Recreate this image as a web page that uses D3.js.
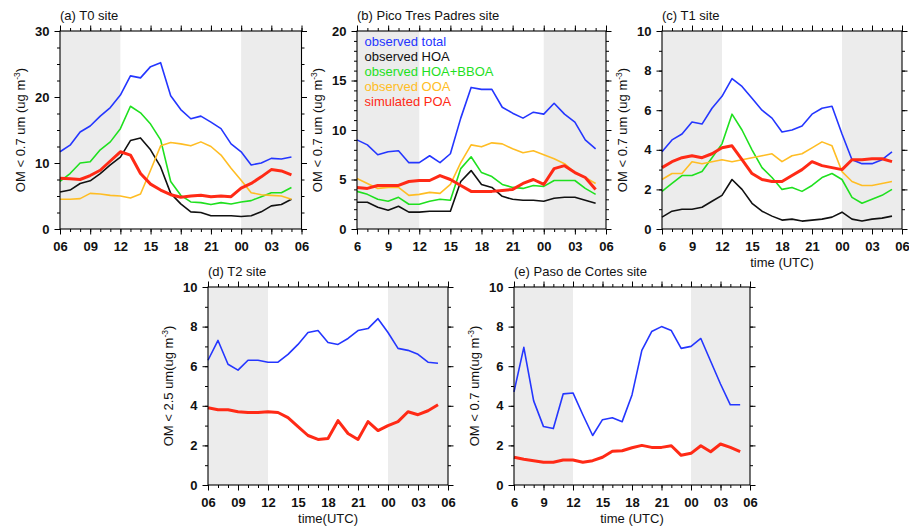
<!DOCTYPE html>
<html>
<head>
<meta charset="utf-8">
<script src="https://cdn.jsdelivr.net/npm/d3@7"></script>
<style>
body { margin: 0; background: #fff; }
svg { display: block; font-family: "Liberation Sans", Arial, Helvetica, sans-serif; }
</style>
</head>
<body>
<script>
// hourly values, index 0 = 06 UTC ... index 23 = 05 UTC (next day)
var ticksTwo = ["06", "09", "12", "15", "18", "21", "00", "03", "06"];
var ticksOne = ["6", "9", "12", "15", "18", "21", "00", "03", "06"];
var seriesNames = ["observed total", "observed HOA", "observed HOA+BBOA", "observed OOA", "simulated POA"];

// (a) T0
var t0Total = [11.7, 12.7, 14.7, 15.6, 17.1, 18.4, 20.3, 23.2, 22.9, 24.6, 25.2, 20.2, 18.1, 16.7, 17.1, 16.2, 15.2, 12.9, 11.7, 9.7, 10.0, 10.7, 10.6, 10.9];
var t0Hoa = [5.6, 5.9, 6.9, 7.3, 8.4, 9.7, 10.9, 13.4, 13.8, 12.0, 9.4, 5.4, 3.8, 2.6, 2.5, 2.0, 2.0, 2.0, 1.9, 2.0, 2.6, 3.5, 3.7, 4.5];
var t0HoaBboa = [7.2, 8.4, 10.0, 10.2, 12.0, 13.2, 15.2, 18.6, 17.6, 15.9, 13.5, 7.2, 5.1, 4.1, 4.0, 3.7, 4.0, 3.8, 4.1, 4.3, 4.9, 5.5, 5.5, 6.3];
var t0Ooa = [4.5, 4.5, 4.6, 5.4, 5.3, 5.1, 5.0, 4.7, 5.3, 8.9, 12.6, 13.1, 12.9, 12.6, 13.2, 12.5, 11.2, 9.2, 7.4, 5.5, 5.2, 5.1, 5.0, 4.5];
var t0Poa = [7.7, 7.6, 7.5, 8.1, 8.9, 10.3, 11.7, 11.2, 8.4, 6.8, 5.9, 5.2, 4.8, 5.0, 5.1, 4.9, 5.0, 4.9, 6.2, 6.9, 7.9, 9.0, 8.8, 8.2];

// (b) Pico Tres Padres
var ptpTotal = [9.0, 8.5, 7.5, 7.8, 7.9, 6.7, 6.7, 7.4, 6.7, 7.6, 11.2, 14.3, 14.1, 14.1, 12.3, 11.7, 11.2, 11.8, 11.6, 12.7, 11.6, 10.8, 9.0, 8.1];
var ptpHoa = [2.7, 2.7, 2.2, 1.9, 2.3, 1.7, 1.7, 1.8, 1.8, 1.8, 4.8, 5.9, 4.5, 4.2, 3.3, 3.0, 2.9, 2.9, 2.8, 3.1, 3.2, 3.2, 2.9, 2.6];
var ptpHoaBboa = [3.8, 3.5, 3.0, 2.8, 3.2, 2.5, 2.5, 2.8, 3.0, 2.9, 6.1, 7.3, 5.7, 5.3, 4.5, 4.2, 4.1, 4.4, 4.3, 4.9, 4.9, 4.9, 4.1, 3.5];
var ptpOoa = [5.1, 4.6, 4.1, 4.2, 4.2, 3.4, 3.5, 3.7, 3.6, 4.5, 6.7, 8.5, 8.3, 8.7, 8.6, 8.1, 7.7, 7.9, 7.5, 7.1, 6.6, 5.7, 5.2, 4.6];
var ptpPoa = [4.2, 4.1, 4.4, 4.4, 4.4, 4.8, 4.9, 4.9, 5.4, 5.0, 4.4, 3.8, 3.8, 3.8, 3.9, 4.0, 4.6, 5.0, 4.5, 6.1, 6.4, 5.7, 5.2, 4.0];

// (c) T1
var t1Total = [3.9, 4.5, 4.8, 5.4, 5.3, 6.1, 6.7, 7.6, 7.2, 6.6, 6.0, 5.6, 4.9, 5.0, 5.2, 5.8, 6.1, 6.2, 4.8, 3.5, 3.3, 3.3, 3.5, 3.9];
var t1Hoa = [0.6, 0.9, 1.0, 1.0, 1.1, 1.4, 1.7, 2.5, 2.0, 1.3, 0.9, 0.65, 0.45, 0.5, 0.4, 0.45, 0.5, 0.6, 0.85, 0.5, 0.4, 0.5, 0.55, 0.65];
var t1HoaBboa = [1.9, 2.3, 2.7, 2.7, 2.9, 3.6, 4.3, 5.8, 5.0, 4.0, 3.1, 2.6, 2.0, 2.1, 1.9, 2.2, 2.6, 2.8, 2.5, 1.6, 1.3, 1.5, 1.7, 2.0];
var t1Ooa = [2.5, 2.8, 2.8, 3.4, 3.3, 3.4, 3.5, 3.4, 3.5, 3.6, 3.7, 3.8, 3.4, 3.7, 3.8, 4.1, 4.4, 4.2, 2.9, 2.4, 2.2, 2.2, 2.3, 2.4];
var t1Poa = [3.1, 3.4, 3.6, 3.7, 3.6, 3.8, 4.1, 4.2, 3.5, 2.8, 2.5, 2.4, 2.4, 2.7, 3.0, 3.4, 3.2, 3.1, 3.0, 3.5, 3.5, 3.55, 3.55, 3.4];

// (d) T2
var t2Total = [6.3, 7.3, 6.1, 5.8, 6.3, 6.3, 6.2, 6.2, 6.6, 7.1, 7.7, 7.8, 7.2, 7.1, 7.4, 7.8, 7.9, 8.4, 7.7, 6.9, 6.8, 6.6, 6.2, 6.15];
var t2Poa = [3.9, 3.8, 3.8, 3.7, 3.66, 3.66, 3.7, 3.66, 3.4, 2.95, 2.5, 2.3, 2.35, 3.25, 2.6, 2.3, 3.2, 2.75, 3.0, 3.2, 3.7, 3.55, 3.75, 4.05];

// (e) Paso de Cortes
var pdcTotal = [4.7, 6.95, 4.25, 2.95, 2.85, 4.6, 4.65, 3.55, 2.5, 3.3, 3.4, 3.2, 4.55, 6.8, 7.75, 8.0, 7.8, 6.9, 7.0, 7.4, 6.25, 5.1, 4.05, 4.05];
var pdcPoa = [1.4, 1.3, 1.23, 1.15, 1.15, 1.26, 1.26, 1.15, 1.23, 1.4, 1.7, 1.73, 1.88, 2.0, 1.9, 1.9, 1.98, 1.5, 1.6, 1.98, 1.68, 2.07, 1.9, 1.68];

var colors = ["#2436ff", "#111111", "#1fe01f", "#ffbd24", "#ff2a16"];
var widths = [1.6, 1.6, 1.6, 1.6, 3];
var shade = "#ececec";

var panels = [
  { title: "(a) T0 site", l: 60, t: 31, r: 301.5, b: 229, yMax: 30, yMajor: 10, yMinor: 2.5,
    yTitle: ["OM < 0.7 um (ug m", ")"], xLabels: ticksTwo, xTitle: null,
    series: [t0Total, t0Hoa, t0HoaBboa, t0Ooa, t0Poa] },
  { title: "(b) Pico Tres Padres site", l: 357, t: 31, r: 606, b: 229, yMax: 20, yMajor: 5, yMinor: 1,
    yTitle: ["OM < 0.7 um (ug m", ")"], xLabels: ticksOne, xTitle: null, legend: true,
    series: [ptpTotal, ptpHoa, ptpHoaBboa, ptpOoa, ptpPoa] },
  { title: "(c) T1 site", l: 662, t: 31, r: 902, b: 229, yMax: 10, yMajor: 2, yMinor: 1,
    yTitle: ["OM < 0.7 um (ug m", ")"], xLabels: ticksOne, xTitle: "time (UTC)",
    series: [t1Total, t1Hoa, t1HoaBboa, t1Ooa, t1Poa] },
  { title: "(d) T2 site", l: 208, t: 287, r: 448, b: 485, yMax: 10, yMajor: 2, yMinor: 1,
    yTitle: ["OM < 2.5 um(ug m", ")"], xLabels: ticksTwo, xTitle: "time(UTC)",
    series: [t2Total, null, null, null, t2Poa] },
  { title: "(e) Paso de Cortes site", l: 514, t: 287, r: 750, b: 485, yMax: 10, yMajor: 2, yMinor: 1,
    yTitle: ["OM < 0.7 um(ug m", ")"], xLabels: ticksOne, xTitle: "time (UTC)",
    series: [pdcTotal, null, null, null, pdcPoa] }
];

var svg = d3.select("body").append("svg")
  .attr("width", 909).attr("height", 526)
  .style("background", "#fff");

function styleAxis(g) {
  g.select(".domain").remove();
  g.selectAll(".tick line").attr("stroke", "#000").attr("stroke-width", 1);
  g.selectAll("text")
    .attr("fill", "#111")
    .style("font-size", "13px")
    .style("font-weight", "bold")
    .style("font-family", "'Liberation Sans', Arial, sans-serif");
}

panels.forEach(function(p) {
  var g = svg.append("g");
  var x = d3.scaleLinear().domain([0, 24]).range([p.l, p.r]);
  var y = d3.scaleLinear().domain([0, p.yMax]).range([p.b, p.t]);

  // night shading 06-12 and 00-06
  [[0, 6], [18, 24]].forEach(function(s) {
    g.append("rect")
      .attr("x", x(s[0])).attr("y", p.t)
      .attr("width", x(s[1]) - x(s[0])).attr("height", p.b - p.t)
      .attr("fill", shade);
  });

  var line = d3.line().x(function(d, i) { return x(i); }).y(function(d) { return y(d); });
  p.series.forEach(function(vals, k) {
    if (!vals) return;
    g.append("path")
      .datum(vals)
      .attr("d", line)
      .attr("fill", "none")
      .attr("stroke", colors[k])
      .attr("stroke-width", widths[k])
      .attr("stroke-linejoin", "round");
  });

  g.append("rect")
    .attr("x", p.l).attr("y", p.t)
    .attr("width", p.r - p.l).attr("height", p.b - p.t)
    .attr("fill", "none").attr("stroke", "#000").attr("stroke-width", 1.1);

  var xMajor = d3.range(0, 25, 3), xMinor = d3.range(0, 25, 1);
  var yMajor = d3.range(0, p.yMax + 0.001, p.yMajor), yMinor = d3.range(0, p.yMax + 0.001, p.yMinor);

  // minor ticks
  g.append("g").attr("transform", "translate(0," + p.b + ")")
    .call(d3.axisBottom(x).tickValues(xMinor).tickSize(3).tickFormat("")).call(styleAxis);
  g.append("g").attr("transform", "translate(0," + p.t + ")")
    .call(d3.axisTop(x).tickValues(xMinor).tickSize(3).tickFormat("")).call(styleAxis);
  g.append("g").attr("transform", "translate(" + p.l + ",0)")
    .call(d3.axisLeft(y).tickValues(yMinor).tickSize(3).tickFormat("")).call(styleAxis);
  g.append("g").attr("transform", "translate(" + p.r + ",0)")
    .call(d3.axisRight(y).tickValues(yMinor).tickSize(3).tickFormat("")).call(styleAxis);

  // major ticks
  g.append("g").attr("transform", "translate(0," + p.b + ")")
    .call(d3.axisBottom(x).tickValues(xMajor).tickSize(5.5).tickPadding(7.5)
      .tickFormat(function(d, i) { return p.xLabels[i]; })).call(styleAxis);
  g.append("g").attr("transform", "translate(0," + p.t + ")")
    .call(d3.axisTop(x).tickValues(xMajor).tickSize(5.5).tickFormat("")).call(styleAxis);
  g.append("g").attr("transform", "translate(" + p.l + ",0)")
    .call(d3.axisLeft(y).tickValues(yMajor).tickSize(5.5).tickPadding(5)
      .tickFormat(d3.format("d"))).call(styleAxis);
  g.append("g").attr("transform", "translate(" + p.r + ",0)")
    .call(d3.axisRight(y).tickValues(yMajor).tickSize(5.5).tickFormat("")).call(styleAxis);

  // panel title
  g.append("text")
    .attr("x", p.l).attr("y", p.t - 11.5)
    .style("font-size", "13px").attr("fill", "#111")
    .text(p.title);

  // y title
  var yt = g.append("text")
    .attr("transform", "translate(" + (p.l - 35) + "," + ((p.t + p.b) / 2) + ") rotate(-90)")
    .attr("text-anchor", "middle")
    .style("font-size", "13px").attr("fill", "#111");
  yt.append("tspan").text(p.yTitle[0]);
  yt.append("tspan").attr("dy", -5).style("font-size", "8.5px").text("-3");
  yt.append("tspan").attr("dy", 5).text(p.yTitle[1]);

  // x title
  if (p.xTitle) {
    g.append("text")
      .attr("x", (p.l + p.r) / 2).attr("y", p.b + 38)
      .attr("text-anchor", "middle")
      .style("font-size", "13px").attr("fill", "#111")
      .text(p.xTitle);
  }

  if (p.legend) {
    seriesNames.forEach(function(name, k) {
      g.append("text")
        .attr("x", p.l + 7.5).attr("y", p.t + 14.5 + k * 15.2)
        .style("font-size", "13px")
        .attr("fill", colors[k])
        .text(name);
    });
  }
});
</script>
</body>
</html>
